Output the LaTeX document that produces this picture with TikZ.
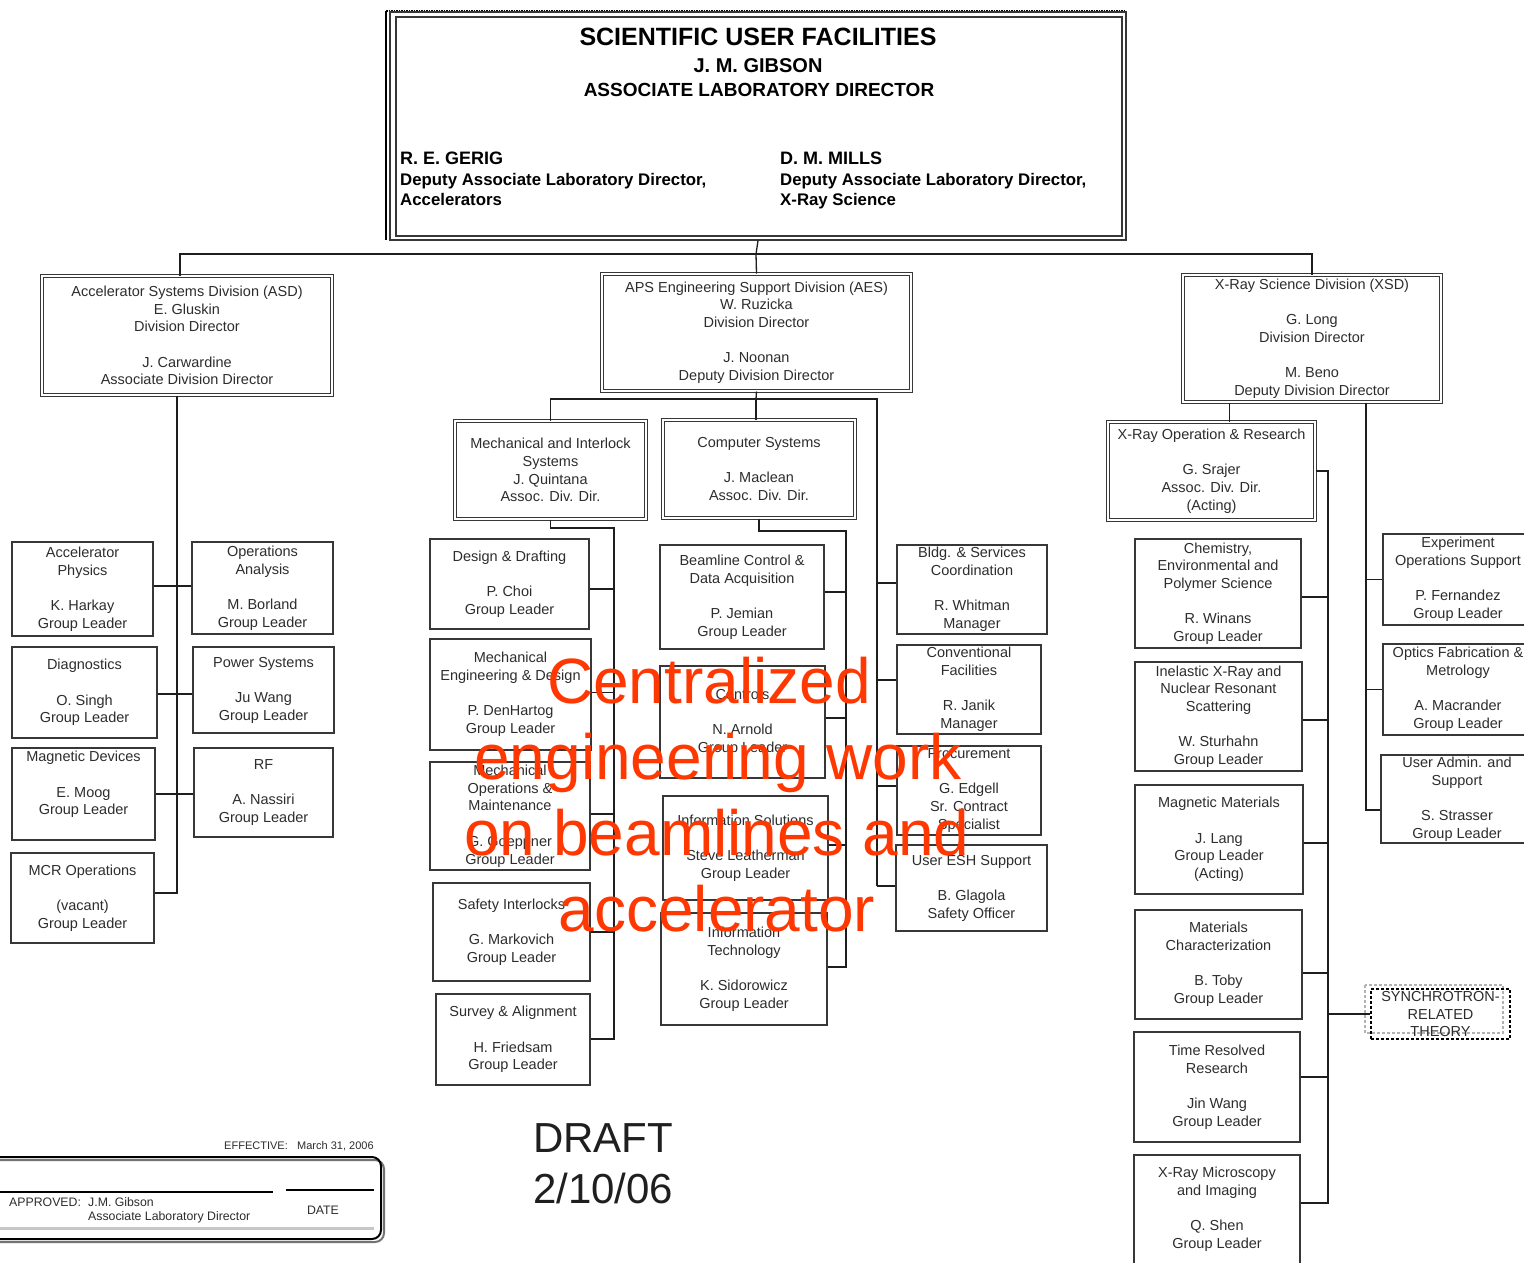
\documentclass[tikz,border=0pt]{standalone}
\usepackage{fontspec}
\setmainfont{Liberation Sans}
\usetikzlibrary{fit}

\definecolor{txt}{RGB}{45,45,45}
\definecolor{boxc}{RGB}{55,55,55}
\definecolor{linec}{RGB}{30,30,30}
\definecolor{overlay}{RGB}{255,55,0}

\newcommand{\boxfont}{\fontsize{14.5}{17.7}\selectfont}
\newcommand{\gap}{\\[17.7pt]}
% \gbox[text options]{frame style}{name}{corner}{corner}{text}
\newcommand{\gbox}[6][]{%
  \node[#2, fit={#4 #5}] (#3) {};
  \node[boxtext,#1] (#3-t) at (#3.center) {#6};}

\begin{document}
\begin{tikzpicture}[x=1pt,y=-1pt,
  box/.style={draw=boxc, line width=1.4pt, inner sep=0pt},
  dbox/.style={draw=boxc, double, double distance=2.4pt, line width=1pt, inner sep=0pt},
  boxtext/.style={inner sep=0pt, align=center, font=\boxfont, text=txt},
  link/.style={draw=linec, line width=1.3pt},
  hdr/.style={inner sep=0pt, text=black},
  ov/.style={anchor=base, inner sep=0pt, text=overlay, font=\fontsize{64}{76}\selectfont},
  foot/.style={anchor=base west, inner sep=0pt, text=txt}]

\useasboundingbox (0,0) rectangle (1524,1262);
\clip (0,0) rectangle (1524,1262);
\fill[white] (0,0) rectangle (1524,1262);

% ---------- head office ----------
\draw[line width=2pt] (386,11) -- (386,240);
\draw[line width=2.6pt, dash pattern=on 1.5pt off 1pt] (386,11) -- (1124,11);
\node[draw=boxc, line width=1.3pt, inner sep=0pt, fit={(390,12) (1126,240)}] (top) {};
\draw[boxc, line width=1.3pt] (396,17) rectangle (1122,236);

\node[hdr, anchor=base, font=\bfseries\fontsize{25}{30}\selectfont] (t1) at (758,45) {SCIENTIFIC USER FACILITIES};
\node[hdr, anchor=base, font=\bfseries\fontsize{20}{24}\selectfont] (t2) at (758,72) {J. M. GIBSON};
\node[hdr, anchor=base, font=\bfseries\fontsize{19}{23}\selectfont] (t3) at (759,96) {ASSOCIATE LABORATORY DIRECTOR};

\node[hdr, anchor=base west, font=\bfseries\fontsize{18}{21}\selectfont] (g1) at (400,164) {R. E. GERIG};
\node[hdr, anchor=base west, font=\bfseries\fontsize{16.8}{21}\selectfont] (g2) at (400,185) {Deputy Associate Laboratory Director,};
\node[hdr, anchor=base west, font=\bfseries\fontsize{16.8}{21}\selectfont] (g3) at (400,205) {Accelerators};
\node[hdr, anchor=base west, font=\bfseries\fontsize{18}{21}\selectfont] (m1) at (780,164) {D. M. MILLS};
\node[hdr, anchor=base west, font=\bfseries\fontsize{16.8}{21}\selectfont] (m2) at (780,185) {Deputy Associate Laboratory Director,};
\node[hdr, anchor=base west, font=\bfseries\fontsize{16.8}{21}\selectfont] (m3) at (780,205) {X-Ray Science};

% ---------- divisions ----------
\gbox{dbox}{asd}{(42,276)}{(332,395)}{Accelerator Systems Division (ASD)\\E. Gluskin\\Division Director\gap J. Carwardine\\Associate Division Director}
\gbox{dbox}{aes}{(602,274)}{(911,391)}{APS Engineering Support Division (AES)\\W. Ruzicka\\Division Director\gap J. Noonan\\Deputy Division Director}
\gbox{dbox}{xsd}{(1183,275)}{(1441,402)}{X-Ray Science Division (XSD)\gap G. Long\\Division Director\gap M. Beno\\Deputy Division Director}

% ---------- ASD groups ----------
\gbox{box}{ap}{(12,542)}{(153,636)}{Accelerator\\Physics\gap K. Harkay\\Group Leader}
\gbox{box}{oa}{(192,542)}{(333,634)}{Operations\\Analysis\gap M. Borland\\Group Leader}
\gbox{box}{dg}{(12,647)}{(157,738)}{Diagnostics\gap O. Singh\\Group Leader}
\gbox{box}{ps}{(193,647)}{(334,733)}{Power Systems\gap Ju Wang\\Group Leader}
\gbox[yshift=9.5pt]{box}{md}{(12,748)}{(155,840)}{Magnetic Devices\gap E. Moog\\Group Leader}
\gbox{box}{rf}{(194,748)}{(333,837)}{RF\gap A. Nassiri\\Group Leader}
\gbox{box}{mcr}{(11,853)}{(154,943)}{MCR Operations\gap (vacant)\\Group Leader}

% ---------- AES sections and groups ----------
\gbox{dbox}{mis}{(455,421)}{(646,519)}{Mechanical and Interlock\\Systems\\J. Quintana\\Assoc. Div. Dir.}
\gbox{dbox}{cs}{(663,420)}{(855,518)}{Computer Systems\gap J. Maclean\\Assoc. Div. Dir.}

\gbox{box}{dd}{(430,539)}{(589,629)}{Design \& Drafting\gap P. Choi\\Group Leader}
\gbox{box}{med}{(430,639)}{(591,750)}{Mechanical\\Engineering \& Design\gap P. DenHartog\\Group Leader}
\gbox{box}{mom}{(430,762)}{(590,870)}{Mechanical\\Operations \&\\Maintenance\gap G. Goeppner\\Group Leader}
\gbox{box}{si}{(433,883)}{(590,981)}{Safety Interlocks\gap G. Markovich\\Group Leader}
\gbox{box}{sa}{(436,994)}{(590,1085)}{Survey \& Alignment\gap H. Friedsam\\Group Leader}

\gbox{box}{bc}{(660,545)}{(824,649)}{Beamline Control \&\\Data Acquisition\gap P. Jemian\\Group Leader}
\gbox{box}{ctl}{(660,666)}{(825,778)}{Controls\gap N. Arnold\\Group Leader}
\gbox{box}{is}{(663,796)}{(828,900)}{Information Solutions\gap Steve Leatherman\\Group Leader}
\gbox{box}{it}{(661,913)}{(827,1025)}{Information\\Technology\gap K. Sidorowicz\\Group Leader}

\gbox{box}{bldg}{(897,545)}{(1047,634)}{Bldg. \& Services\\Coordination\gap R. Whitman\\Manager}
\gbox{box}{conv}{(897,645)}{(1041,734)}{Conventional\\Facilities\gap R. Janik\\Manager}
\gbox{box}{proc}{(897,746)}{(1041,835)}{Procurement\gap G. Edgell\\Sr. Contract\\Specialist}
\gbox{box}{esh}{(896,845)}{(1047,931)}{User ESH Support\gap B. Glagola\\Safety Officer}

% ---------- XSD sections and groups ----------
\gbox{dbox}{xor}{(1108,422)}{(1315,520)}{X-Ray Operation \& Research\gap G. Srajer\\Assoc. Div. Dir.\\(Acting)}

\gbox{box}{chem}{(1135,539)}{(1301,648)}{Chemistry,\\Environmental and\\Polymer Science\gap R. Winans\\Group Leader}
\gbox{box}{inel}{(1135,662)}{(1302,771)}{Inelastic X-Ray and\\Nuclear Resonant\\Scattering\gap W. Sturhahn\\Group Leader}
\gbox{box}{mm}{(1135,785)}{(1303,894)}{Magnetic Materials\gap J. Lang\\Group Leader\\(Acting)}
\gbox{box}{matc}{(1135,910)}{(1302,1019)}{Materials\\Characterization\gap B. Toby\\Group Leader}
\gbox{box}{trr}{(1134,1032)}{(1300,1142)}{Time Resolved\\Research\gap Jin Wang\\Group Leader}
\gbox[yshift=2.5pt]{box}{xmi}{(1134,1155)}{(1300,1268)}{X-Ray Microscopy\\and Imaging\gap Q. Shen\\Group Leader}

\gbox{box}{eos}{(1383,534)}{(1533,625)}{Experiment\\Operations Support\gap P. Fernandez\\Group Leader}
\gbox{box}{ofm}{(1383,644)}{(1533,735)}{Optics Fabrication \&\\Metrology\gap A. Macrander\\Group Leader}
\gbox{box}{uas}{(1381,755)}{(1533,843)}{User Admin. and\\Support\gap S. Strasser\\Group Leader}

% dashed theory box with its grey offset outline
\draw[black!30, line width=1.5pt, dash pattern=on 3pt off 2pt] (1365,985) rectangle (1503,1033);
\node[draw=black, line width=1.6pt, dash pattern=on 3pt off 2pt, inner sep=0pt, fit={(1371,989) (1510,1039)}] (srt) {};
\node[boxtext] (srt-t) at (srt.center) {SYNCHROTRON-\\RELATED\\THEORY};

% ---------- connectors ----------
\coordinate (hub) at (756,254);
\draw[link] (top.south) -- (hub);
\draw[link] ([xshift=-7pt]asd.north) |- (hub) -| (xsd.north);
\draw[link] (hub) -- (aes.north);

% ASD spine
\coordinate (asdend) at (177,893);
\draw[link] (asdend |- asd.south) -- (asdend) -- (asdend -| mcr.east);
\draw[link] ([yshift=3pt]ap.east) -- ([yshift=3pt]ap.east -| oa.west);
\draw[link] ([yshift=-1.5pt]dg.east) -- ([yshift=-1.5pt]dg.east -| ps.west);
\draw[link] (md.east) -- (md.east -| rf.west);

% AES buses
\coordinate (aesbus) at (756,399);
\coordinate (aesr) at (877,886);
\draw[link] (aes.south) -- (aesbus);
\draw[link] (mis.north) |- (aesbus) -| (aesr);
\draw[link] (aesbus) -- (aesbus |- cs.north);
\draw[link] ([yshift=6.5pt]bldg.west) -- ([yshift=6.5pt]bldg.west -| aesr);
\draw[link] ([yshift=9.5pt]conv.west) -- ([yshift=9.5pt]conv.west -| aesr);
\draw[link] ([yshift=4.5pt]proc.west) -- ([yshift=4.5pt]proc.west -| aesr);
\draw[link] (aesr) -- (aesr -| esh.west);

\coordinate (mtop) at (614,528);
\coordinate (mbot) at (614,1039);
\draw[link] (mis.south) |- (mtop) -- (mbot) -- (mbot -| sa.east);
\draw[link] ([yshift=-5pt]dd.east) -- ([yshift=-5pt]dd.east -| mtop);
\draw[link] ([yshift=2pt]med.east) -- ([yshift=2pt]med.east -| mtop);
\draw[link] ([yshift=2pt]mom.east) -- ([yshift=2pt]mom.east -| mtop);
\draw[link] (si.east) -- (si.east -| mtop);

\coordinate (ctop) at (846,531);
\coordinate (cbot) at (846,967);
\draw[link] (cs.south) |- (ctop) -- (cbot) -- (cbot -| it.east);
\draw[link] ([yshift=5pt]bc.east) -- ([yshift=5pt]bc.east -| ctop);
\draw[link] ([yshift=4pt]ctl.east) -- ([yshift=4pt]ctl.east -| ctop);
\draw[link] ([yshift=3pt]is.east) -- ([yshift=3pt]is.east -| ctop);

% XSD spines
\draw[link] ([xshift=18pt]xor.north) -- ([xshift=18pt]xor.north |- xsd.south);
\coordinate (xbot) at (1328,1203);
\draw[link] (xor.east) -| (xbot) -- (xbot -| xmi.east);
\draw[link] ([yshift=-3.5pt]chem.east) -- ([yshift=-3.5pt]chem.east -| xbot);
\draw[link] ([yshift=-3.5pt]inel.east) -- ([yshift=-3.5pt]inel.east -| xbot);
\draw[link] ([yshift=-3.5pt]mm.east) -- ([yshift=-3.5pt]mm.east -| xbot);
\draw[link] ([yshift=-8.5pt]matc.east) -- ([yshift=-8.5pt]matc.east -| xbot);
\draw[link] ([yshift=10pt]trr.east) -- ([yshift=10pt]trr.east -| xbot);
\draw[link] (srt.west) -- (srt.west -| xbot);

\coordinate (rbot) at (1366,810);
\draw[link] (rbot |- xsd.south) -- (rbot) -- (rbot -| uas.west);
\draw[link] (eos.west) -- (eos.west -| rbot);
\draw[link] (ofm.west) -- (ofm.west -| rbot);

% ---------- approval block ----------
\node[foot, anchor=base east, font=\fontsize{11}{13}\selectfont] (eff) at (288,1149) {EFFECTIVE:};
\node[foot, font=\fontsize{11}{13}\selectfont] (effd) at (297,1149) {March 31, 2006};
\draw[black!55, line width=2pt, rounded corners=9pt] (-10,1160) rectangle (384,1242);
\node[draw=black, line width=2pt, rounded corners=9pt, inner sep=0pt, fit={(-12,1157) (381,1239)}] (appr) {};
\draw[line width=2.2pt] (0,1192) -- (273,1192);
\draw[line width=2.2pt] (286,1190) -- (374,1190);
\draw[black!22, line width=3pt] (0,1228) -- (374,1228);
\node[foot, font=\fontsize{12.3}{14}\selectfont] (apv) at (9,1206) {APPROVED:};
\node[foot, font=\fontsize{12.3}{14}\selectfont] (apn) at (88,1206) {J.M. Gibson};
\node[foot, font=\fontsize{12.3}{14}\selectfont] (apt) at (88,1220) {Associate Laboratory Director};
\node[foot, anchor=base, font=\fontsize{12.3}{14}\selectfont] (date) at (323,1214) {DATE};

% ---------- draft stamp ----------
\node[foot, text=black!88, font=\fontsize{42}{50}\selectfont] (dr1) at (533,1152) {DRAFT};
\node[foot, text=black!88, font=\fontsize{42}{50}\selectfont] (dr2) at (533,1203) {2/10/06};

% ---------- overlaid note ----------
\node[ov] (ov1) at (709,703) {Centralized};
\node[ov] (ov2) at (718,779) {engineering work};
\node[ov] (ov3) at (717,855) {on beamlines and};
\node[ov] (ov4) at (717,931) {accelerator};

\end{tikzpicture}
\end{document}
